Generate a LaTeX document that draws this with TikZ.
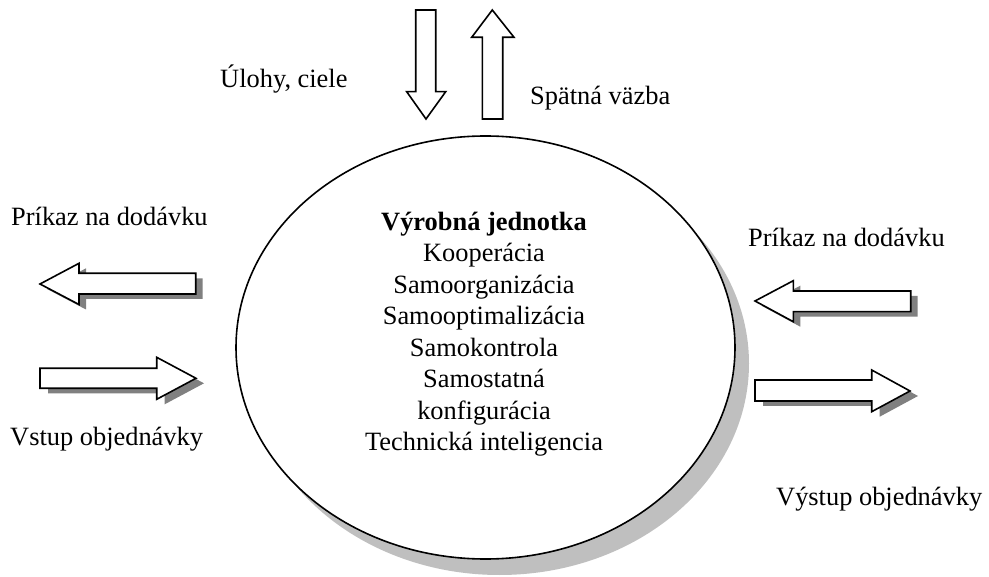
\documentclass[tikz,border=0pt]{standalone}
\usepackage{fontspec}
\setmainfont{Liberation Serif}
\begin{document}
\begin{tikzpicture}[x=1pt,y=-1pt,
  blockarrow/.style={draw=black,line width=1.6pt,fill=white,line join=miter},
  arrowshadow/.style={fill=black!50,draw=none},
  bigfont/.style={font=\fontsize{26.4}{31.5}\selectfont},
  label/.style={inner sep=0pt,anchor=base west,bigfont}]
\useasboundingbox (0,0) rectangle (989,577);

% unit with shadow
\fill[black!25] (499.5,363.5) ellipse [x radius=249.5, y radius=211.5];
\draw[line width=1.6pt,fill=white] (485.5,347.5) ellipse [x radius=249.5, y radius=211.5];
\node[inner sep=0pt,anchor=base,align=center,bigfont] (unit) at (484,450.5)
  {\textbf{Výrobná jednotka}\\Kooperácia\\Samoorganizácia\\Samooptimalizácia\\Samokontrola\\Samostatná\\konfigurácia\\Technická inteligencia};

% tasks down, feedback up
\draw[blockarrow] (415.7,10) -- (435.7,10) -- (435.7,91.7) -- (445.7,91.7) -- (426,119) -- (406.7,91.7) -- (415.7,91.7) -- cycle;
\draw[blockarrow] (492.3,10) -- (514,37.3) -- (502.7,37.3) -- (502.7,119) -- (482.3,119) -- (482.3,37.3) -- (471.7,37.3) -- cycle;

% left side: delivery order out, order input in
\fill[arrowshadow,shift={(7,5)}] (40,284) -- (79,263.3) -- (79,273.3) -- (195.7,273.3) -- (195.7,294) -- (79,294) -- (79,304.5) -- cycle;
\draw[blockarrow] (40,284) -- (79,263.3) -- (79,273.3) -- (195.7,273.3) -- (195.7,294) -- (79,294) -- (79,304.5) -- cycle;
\fill[arrowshadow,shift={(8,5)}] (40,368.3) -- (156.7,368.3) -- (156.7,357.3) -- (196,378.3) -- (156.7,399.3) -- (156.7,388.3) -- (40,388.3) -- cycle;
\draw[blockarrow] (40,368.3) -- (156.7,368.3) -- (156.7,357.3) -- (196,378.3) -- (156.7,399.3) -- (156.7,388.3) -- (40,388.3) -- cycle;

% right side: delivery order in, order output out
\fill[arrowshadow,shift={(7,5)}] (755,301) -- (793.3,280.7) -- (793.3,291) -- (910.7,291) -- (910.7,311.7) -- (793.3,311.7) -- (793.3,321.7) -- cycle;
\draw[blockarrow] (755,301) -- (793.3,280.7) -- (793.3,291) -- (910.7,291) -- (910.7,311.7) -- (793.3,311.7) -- (793.3,321.7) -- cycle;
\fill[arrowshadow,shift={(8,5)}] (755,380) -- (871.7,380) -- (871.7,370) -- (910,391) -- (871.7,411.7) -- (871.7,401) -- (755,401) -- cycle;
\draw[blockarrow] (755,380) -- (871.7,380) -- (871.7,370) -- (910,391) -- (871.7,411.7) -- (871.7,401) -- (755,401) -- cycle;

% labels
\node[label] (tasks) at (220,88) {Úlohy, ciele};
\node[label] (feedback) at (530,105) {Spätná väzba};
\node[label] (cmdleft) at (11,225.7) {Príkaz na dodávku};
\node[label] (cmdright) at (748,247) {Príkaz na dodávku};
\node[label] (input) at (10,446) {Vstup objednávky};
\node[label] (output) at (776,505) {Výstup objednávky};
\end{tikzpicture}
\end{document}
